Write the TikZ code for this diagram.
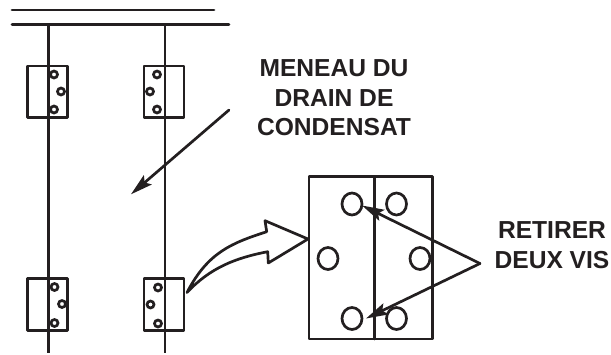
\documentclass[tikz,border=0pt]{standalone}
\usepackage{fontspec}
\setmainfont{Liberation Sans}
\usetikzlibrary{arrows.meta,shapes.geometric}
\definecolor{ink}{HTML}{231F20}
\tikzset{
  ln/.style={draw=ink,line width=2.7pt,line cap=round,line join=round},
  hingebox/.style={ln,rectangle,minimum width=40pt,minimum height=51.5pt,inner sep=0pt,outer sep=0pt},
  screw/.style={draw=ink,line width=2.7pt,circle,minimum size=7pt,inner sep=0pt,outer sep=0pt},
  panelbox/.style={ln,rectangle,minimum width=123.5pt,minimum height=162.5pt,inner sep=0pt,outer sep=0pt},
  hole/.style={draw=ink,line width=2.7pt,ellipse,minimum width=20pt,minimum height=22pt,inner sep=0pt,outer sep=0pt},
  lbl/.style={text=ink,font=\fontsize{24.6}{29.5}\selectfont\bfseries,align=center,inner sep=0pt},
  arr/.style={ln,-{Stealth[length=22pt,width=12pt,inset=4pt]}},
}
\begin{document}
\begin{tikzpicture}[x=1pt,y=-1pt]
\useasboundingbox (0,0) rectangle (611,354);
% top rails
\coordinate (r1a) at (12,10); \coordinate (r1b) at (214,10);
\coordinate (r2a) at (12,24.5); \coordinate (r2b) at (229,24.5);
\draw[ln] (r1a) -- (r1b);
\draw[ln] (r2a) -- (r2b);
% mullions
\coordinate (m1t) at (48.5,24.5); \coordinate (m1b) at (48.5,353);
\coordinate (m2t) at (165,24.5); \coordinate (m2b) at (165,353);
\draw[ln,line cap=butt] (m1t) -- (m1b);
\draw[ln,line cap=butt] (m2t) -- (m2b);
% hinges
\node[hingebox] (h1) at (47.5,91.7) {};
\node[hingebox] (h2) at (164,91.7) {};
\node[hingebox] (h3) at (47.5,304.5) {};
\node[hingebox] (h4) at (164,304.5) {};
\foreach \n/\x/\y in {a/54/74.5,b/61/91.5,c/54/109.5,d/157/74.5,e/150/91.5,f/157/109.5,g/54.5/287,h/62/304,i/54.5/323,j/158/287.5,k/150.5/304.5,l/158/323.5}
  \node[screw,fill=white] (s\n) at (\x,\y) {};
% panel
\node[panelbox] (p) at (370.8,257.8) {};
\coordinate (pt) at (374.7,176.5); \coordinate (pb) at (374.7,339);
\draw[ln] (pt) -- (pb);
\foreach \n/\x/\y in {a/352/204,b/396.5/204,c/328/258.5,d/420/258.5,e/352/318.5,f/396.5/318.5}
  \node[hole] (c\n) at (\x,\y) {};
% curved arrow
\coordinate (tail) at (187,292.5);
\coordinate (tip) at (308,239);
\draw[ln] (tail) .. controls (208,252) and (232,243) .. (266.7,231.7)
  -- (265,220.7) -- (tip) -- (268.3,263) -- (267.7,251.7)
  .. controls (235,258) and (210,268) .. cycle;
% labels
\node[lbl] (t1) at (334,98) {MENEAU DU\\DRAIN DE\\CONDENSAT};
\node[lbl] (t2) at (552,245) {RETIRER\\DEUX VIS};
% arrows
\coordinate (a0) at (229,110); \coordinate (a1) at (131,194.3);
\draw[arr] (a0) -- (a1);
\coordinate (v) at (480,263.5);
\coordinate (v1) at (362,205.5); \coordinate (v2) at (366,318.5);
\draw[arr] (v) -- (v1);
\draw[arr] (v) -- (v2);
\end{tikzpicture}
\end{document}
